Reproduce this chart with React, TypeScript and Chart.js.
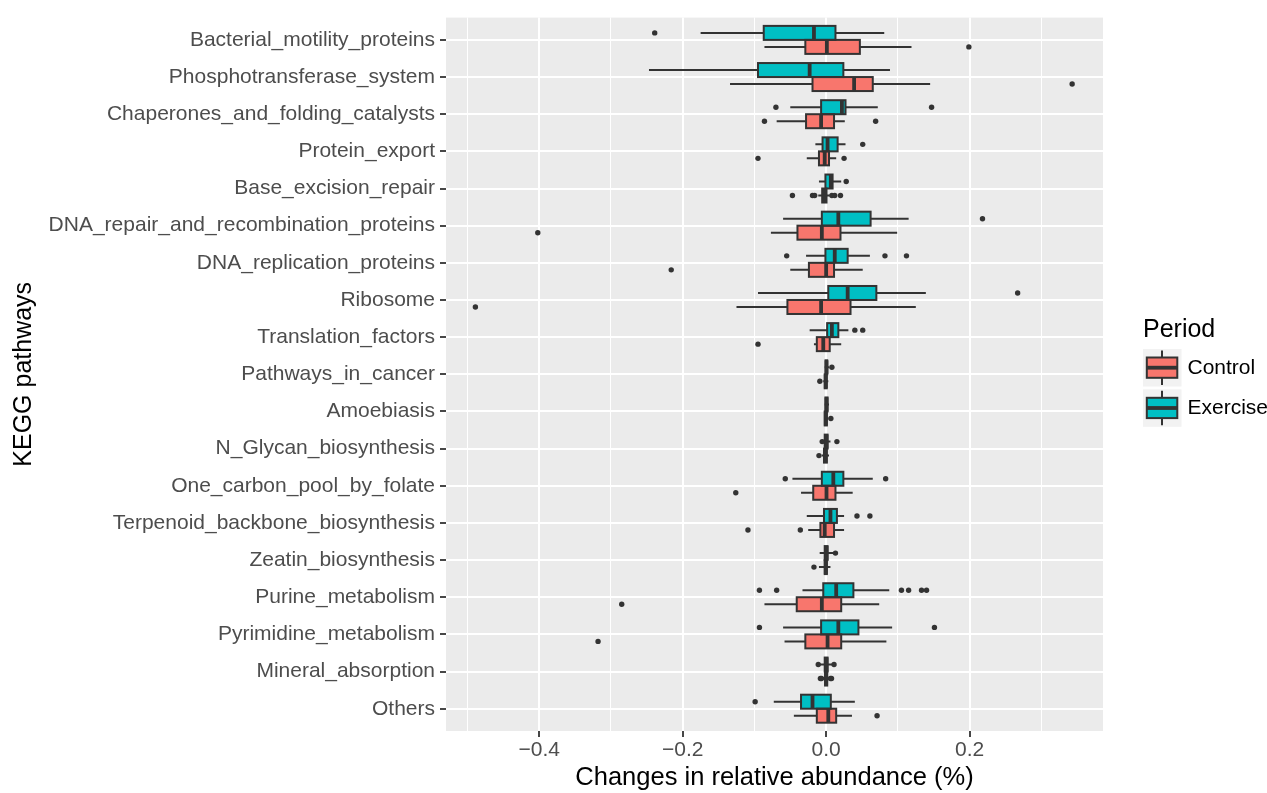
import React, { useEffect, useRef } from 'react';
import { Chart, registerables } from 'chart.js';

Chart.register(...registerables);

const categories = [
  'Bacterial_motility_proteins',
  'Phosphotransferase_system',
  'Chaperones_and_folding_catalysts',
  'Protein_export',
  'Base_excision_repair',
  'DNA_repair_and_recombination_proteins',
  'DNA_replication_proteins',
  'Ribosome',
  'Translation_factors',
  'Pathways_in_cancer',
  'Amoebiasis',
  'N_Glycan_biosynthesis',
  'One_carbon_pool_by_folate',
  'Terpenoid_backbone_biosynthesis',
  'Zeatin_biosynthesis',
  'Purine_metabolism',
  'Pyrimidine_metabolism',
  'Mineral_absorption',
  'Others',
];

// Exercise period
const exerciseLow = [-0.175, -0.247, -0.05, -0.015, -0.01, -0.06, -0.028, -0.095, -0.023, -0.002, -0.002, -0.004, -0.047, -0.027, -0.009, -0.033, -0.06, -0.009, -0.073];
const exerciseQ1 = [-0.087, -0.095, -0.007, -0.005, -0.001, -0.006, -0.001, 0.003, 0.0, -0.0008, -0.001, -0.002, -0.006, -0.003, -0.002, -0.004, -0.007, -0.002, -0.035];
const exerciseMedian = [-0.017, -0.023, 0.022, 0.002, 0.0065, 0.017, 0.012, 0.03, 0.008, 0.0005, 0.0005, 0.0005, 0.01, 0.006, 0.0005, 0.014, 0.017, 0.0005, -0.019];
const exerciseQ3 = [0.013, 0.024, 0.027, 0.016, 0.009, 0.062, 0.03, 0.07, 0.017, 0.0015, 0.002, 0.002, 0.024, 0.015, 0.002, 0.038, 0.045, 0.002, 0.0065];
const exerciseHigh = [0.081, 0.089, 0.072, 0.027, 0.021, 0.115, 0.061, 0.139, 0.031, 0.004, 0.004, 0.006, 0.065, 0.025, 0.01, 0.088, 0.092, 0.009, 0.04];
const exerciseOutliers = [
  [-0.239], [], [-0.07, 0.147], [0.051], [0.028], [0.218], [-0.055, 0.082, 0.112], [0.267],
  [0.04, 0.051], [0.008], [], [-0.0055, 0.015], [-0.057, 0.083], [0.043, 0.061], [0.013],
  [-0.093, -0.069, 0.105, 0.115, 0.133, 0.14], [-0.093, 0.151], [-0.011, 0.011], [-0.099],
];

// Control period
const controlLow = [-0.086, -0.134, -0.069, -0.027, -0.011, -0.077, -0.05, -0.125, -0.017, -0.004, -0.002, -0.006, -0.035, -0.025, -0.01, -0.086, -0.058, -0.005, -0.045];
const controlQ1 = [-0.029, -0.019, -0.028, -0.01, -0.0055, -0.04, -0.024, -0.054, -0.013, -0.002, -0.002, -0.003, -0.018, -0.008, -0.002, -0.041, -0.029, -0.0015, -0.013];
const controlMedian = [0.001, 0.039, -0.007, -0.002, -0.0027, -0.006, 0.0, -0.007, -0.004, -0.0005, -0.0005, -0.001, 0.0005, -0.002, -0.0005, -0.006, 0.002, 0.0, 0.003];
const controlQ3 = [0.047, 0.065, 0.011, 0.004, 0.0005, 0.02, 0.011, 0.034, 0.005, 0.0008, 0.001, 0.001, 0.013, 0.011, 0.001, 0.021, 0.021, 0.0015, 0.014];
const controlHigh = [0.119, 0.145, 0.026, 0.014, 0.005, 0.099, 0.051, 0.125, 0.021, 0.003, 0.003, 0.004, 0.037, 0.025, 0.006, 0.074, 0.084, 0.004, 0.036];
const controlOutliers = [
  [0.199], [0.343], [-0.086, 0.069], [-0.095, 0.025], [-0.047, -0.019, -0.016, 0.008, 0.012, 0.02],
  [-0.402], [-0.216], [-0.489], [-0.095], [-0.0088], [0.0066], [-0.01], [-0.126], [-0.109, -0.036],
  [-0.017], [-0.285], [-0.318], [-0.008, -0.0065, 0.006, 0.0075], [0.071],
];

const xMin = -0.53;
const xMax = 0.386;

const FONT = '"Liberation Sans", Arial, Helvetica, sans-serif';
const INK = '#333333';

const isMajor = (v: number) => Math.abs(Math.round(v * 10)) % 2 === 0;
const fmt = (v: number) => (Math.round(v * 10) / 10).toFixed(1).replace('-', '\u2212');

export default function App() {
  const ref = useRef<HTMLCanvasElement>(null);

  useEffect(() => {
    document.body.style.margin = '0';
    const canvas = ref.current;
    if (!canvas) return;

    const series = [
      { label: 'Exercise', color: '#00BFC4', low: exerciseLow, q1: exerciseQ1, med: exerciseMedian, q3: exerciseQ3, high: exerciseHigh, out: exerciseOutliers },
      { label: 'Control', color: '#F8766D', low: controlLow, q1: controlQ1, med: controlMedian, q3: controlQ3, high: controlHigh, out: controlOutliers },
    ];
    const legendItems = [series[1], series[0]];

    const boxPlugin = {
      id: 'ggBox',
      beforeDraw(chart: any) {
        const { ctx, chartArea: a } = chart;
        ctx.save();
        ctx.fillStyle = '#EBEBEB';
        ctx.fillRect(a.left, a.top, a.right - a.left, a.bottom - a.top);
        ctx.restore();
      },
      afterDatasetsDraw(chart: any) {
        const ctx = chart.ctx;
        const xs = chart.scales.x;
        series.forEach((s, di) => {
          const meta = chart.getDatasetMeta(di);
          meta.data.forEach((el: any, i: number) => {
            const { x, y, base, height } = el.getProps(['x', 'y', 'base', 'height'], true);
            const left = Math.min(x, base);
            const right = Math.max(x, base);
            const top = y - height / 2;
            ctx.save();
            ctx.strokeStyle = INK;
            ctx.lineWidth = 2;
            ctx.beginPath();
            ctx.moveTo(xs.getPixelForValue(s.low[i]), y);
            ctx.lineTo(left, y);
            ctx.moveTo(right, y);
            ctx.lineTo(xs.getPixelForValue(s.high[i]), y);
            ctx.stroke();
            ctx.strokeRect(left, top, right - left, height);
            const mx = xs.getPixelForValue(s.med[i]);
            ctx.lineWidth = 3.8;
            ctx.beginPath();
            ctx.moveTo(mx, top);
            ctx.lineTo(mx, top + height);
            ctx.stroke();
            ctx.fillStyle = INK;
            s.out[i].forEach((v: number) => {
              ctx.beginPath();
              ctx.arc(xs.getPixelForValue(v), y, 2.7, 0, Math.PI * 2);
              ctx.fill();
            });
            ctx.restore();
          });
        });
      },
      afterDraw(chart: any) {
        const { ctx, chartArea: a } = chart;
        const lx = a.right + 40;
        ctx.save();
        ctx.fillStyle = '#000000';
        ctx.textAlign = 'left';
        ctx.textBaseline = 'middle';
        ctx.font = `25px ${FONT}`;
        ctx.fillText('Period', lx, 330);
        legendItems.forEach((it, k) => {
          const ty = 349 + k * 40.3;
          ctx.fillStyle = '#F2F2F2';
          ctx.fillRect(lx, ty, 38.5, 37.5);
          const cx = lx + 19;
          ctx.strokeStyle = INK;
          ctx.lineWidth = 2;
          ctx.beginPath();
          ctx.moveTo(cx, ty + 1.5);
          ctx.lineTo(cx, ty + 8.5);
          ctx.moveTo(cx, ty + 28.8);
          ctx.lineTo(cx, ty + 36);
          ctx.stroke();
          ctx.fillStyle = it.color;
          ctx.fillRect(lx + 3.8, ty + 8.5, 30.5, 20.3);
          ctx.strokeRect(lx + 3.8, ty + 8.5, 30.5, 20.3);
          ctx.lineWidth = 3.8;
          ctx.beginPath();
          ctx.moveTo(lx + 3.8, ty + 18.7);
          ctx.lineTo(lx + 34.3, ty + 18.7);
          ctx.stroke();
          ctx.fillStyle = '#000000';
          ctx.font = `21px ${FONT}`;
          ctx.fillText(it.label, lx + 44.5, ty + 19);
        });
        ctx.restore();
      },
    };

    const chart = new Chart(canvas, {
      type: 'bar',
      data: {
        datasets: series.map((s) => ({
          label: s.label,
          data: s.q1.map((q, i) => ({ x: [q, s.q3[i]], y: i })),
          backgroundColor: s.color,
          borderWidth: 0,
          barThickness: 14,
        })),
      } as any,
      options: {
        indexAxis: 'y',
        responsive: false,
        animation: false,
        devicePixelRatio: 1,
        events: [],
        layout: { padding: { left: 0, right: 164, top: 15, bottom: 0 } },
        plugins: { legend: { display: false }, tooltip: { enabled: false } },
        scales: {
          x: {
            type: 'linear',
            min: xMin,
            max: xMax,
            offset: false,
            afterFit: (axis: any) => { axis.height = 62; },
            ticks: {
              stepSize: 0.1,
              includeBounds: false,
              autoSkip: false,
              maxRotation: 0,
              color: '#4D4D4D',
              font: { family: FONT, size: 21 },
              padding: 1,
              callback: (v: any) => (isMajor(Number(v)) ? fmt(Number(v)) : ''),
            },
            grid: {
              offset: false,
              color: '#FFFFFF',
              lineWidth: (c: any) => (c.tick && isMajor(c.tick.value) ? 2 : 1),
              tickColor: (c: any) => (c.tick && isMajor(c.tick.value) ? INK : 'rgba(0,0,0,0)'),
              tickLength: 6,
              tickWidth: 1.8,
            },
            border: { display: false },
            title: {
              display: true,
              text: 'Changes in relative abundance (%)',
              color: '#000000',
              font: { family: FONT, size: 25.5 },
              padding: { top: 0, bottom: 0 },
            },
          },
          y: {
            type: 'linear',
            reverse: true,
            offset: false,
            min: -0.6,
            max: categories.length - 0.4,
            afterBuildTicks: (axis: any) => { axis.ticks = categories.map((_, i) => ({ value: i })); },
            afterFit: (axis: any) => { axis.width = 446; },
            ticks: {
              autoSkip: false,
              color: '#4D4D4D',
              font: { family: FONT, size: 21 },
              padding: 5,
              callback: (v: any) => categories[Number(v)],
            },
            grid: { offset: false, color: '#FFFFFF', lineWidth: 2, tickColor: INK, tickLength: 6, tickWidth: 1.8 },
            border: { display: false },
            title: {
              display: true,
              text: 'KEGG pathways',
              color: '#000000',
              font: { family: FONT, size: 25 },
              padding: { top: 9, bottom: 0 },
            },
          },
        },
      } as any,
      plugins: [boxPlugin],
    });

    return () => chart.destroy();
  }, []);

  return (
    <div style={{ width: 1267, height: 793 }}>
      <canvas ref={ref} width={1267} height={793} style={{ display: 'block' }} />
    </div>
  );
}
